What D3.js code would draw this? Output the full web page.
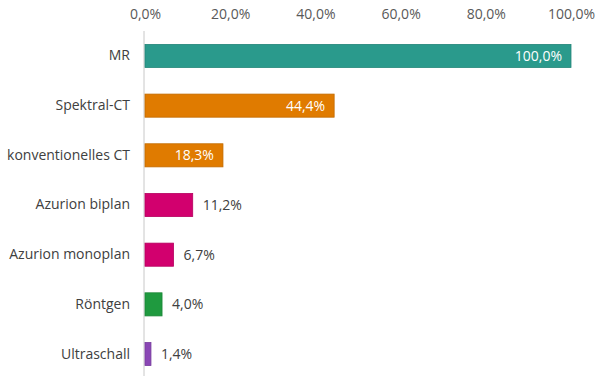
<!DOCTYPE html>
<html>
<head>
<meta charset="utf-8">
<script src="https://cdn.jsdelivr.net/npm/d3@7"></script>
<style>
  body { margin: 0; background: #fff; }
  svg text { font-family: "Open Sans", "Liberation Sans", sans-serif; }
</style>
</head>
<body>
<div id="chart"></div>
<script>
"use strict"

// data
var categories = ['MR', 'Spektral-CT', 'konventionelles CT', 'Azurion biplan', 'Azurion monoplan', 'Röntgen', 'Ultraschall'];
var values = [100.0, 44.4, 18.3, 11.2, 6.7, 4.0, 1.4];
var barColors = ['#2a9a8c', '#e07b00', '#e07b00', '#d2006e', '#d2006e', '#1f9a3f', '#8a47b5'];
var tickValues = [0, 20, 40, 60, 80, 100];
// labels drawn inside the bar for the first three
var labelInside = [true, true, true, false, false, false, false];

var width = 600, height = 380;
var margin = {top: 31, right: 29, bottom: 1, left: 145};

var fmt = function(v) { return v.toFixed(1).replace('.', ',') + '%'; };

var svg = d3.select("#chart")
    .append("svg")
    .attr("width", width)
    .attr("height", height);

var x = d3.scaleLinear()
    .domain([0, 100])
    .range([margin.left, width - margin.right]);

var y = d3.scaleBand()
    .domain(categories)
    .range([margin.top, height - margin.bottom])
    .paddingInner(0.535)
    .paddingOuter(0.27);

// top axis labels only
var xAxis = svg.append("g")
    .attr("transform", "translate(0,20)")
    .call(d3.axisTop(x).tickValues(tickValues).tickSize(0).tickPadding(0).tickFormat(function(d) { return fmt(d); }));
xAxis.select(".domain").remove();
xAxis.selectAll("text")
    .attr("font-size", 14)
    .attr("fill", "#595959")
    .attr("dy", "-0.05em");

// left axis with category labels
var yAxis = svg.append("g")
    .attr("transform", "translate(" + (margin.left - 1) + ",0)")
    .call(d3.axisLeft(y).tickSize(0).tickPadding(14));
yAxis.select(".domain")
    .attr("stroke", "#c8c8c8")
    .attr("d", "M0," + margin.top + "V" + (height - 4));
yAxis.selectAll("text")
    .attr("font-size", 14)
    .attr("fill", "#404040");

// bars
svg.selectAll("rect.bar")
    .data(values)
    .enter()
    .append("rect")
    .attr("class", "bar")
    .attr("x", x(0))
    .attr("y", function(d, i) { return y(categories[i]); })
    .attr("width", function(d) { return x(d) - x(0); })
    .attr("height", y.bandwidth())
    .attr("fill", function(d, i) { return barColors[i]; })
    .attr("stroke", function(d, i) { return d3.color(barColors[i]).darker(0.4); })
    .attr("stroke-width", 0.8);

// value labels
svg.selectAll("text.val")
    .data(values)
    .enter()
    .append("text")
    .attr("class", "val")
    .attr("x", function(d, i) { return labelInside[i] ? x(d) - 9 : x(d) + 10; })
    .attr("y", function(d, i) { return y(categories[i]) + y.bandwidth() / 2; })
    .attr("dy", "0.35em")
    .attr("text-anchor", function(d, i) { return labelInside[i] ? "end" : "start"; })
    .attr("font-size", 14)
    .attr("fill", function(d, i) { return labelInside[i] ? "#ffffff" : "#404040"; })
    .text(function(d) { return fmt(d); });
</script>
</body>
</html>
